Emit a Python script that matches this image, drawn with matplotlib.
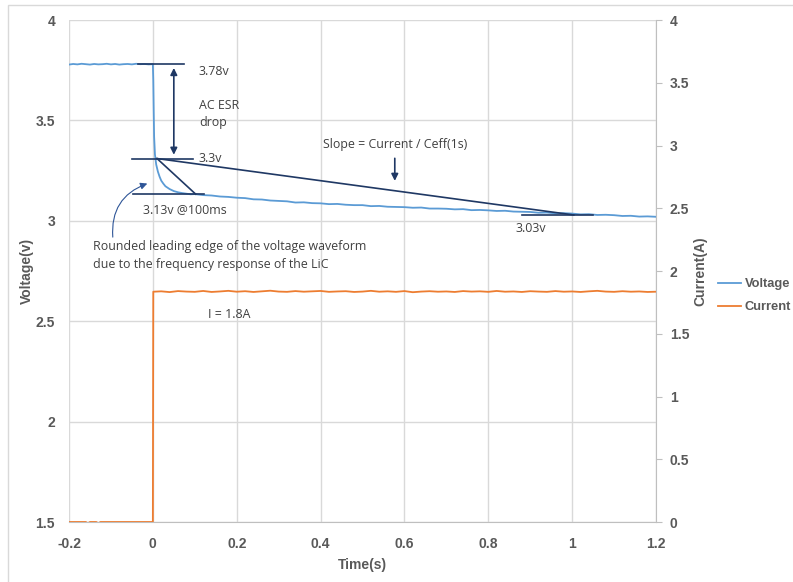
import numpy as np
import matplotlib
matplotlib.use("Agg")
import matplotlib.pyplot as plt
from matplotlib.patches import Rectangle

# Datos
t_pre = [-0.20, -0.19, -0.18, -0.17, -0.16, -0.15, -0.14, -0.13, -0.12, -0.11, -0.10,
         -0.09, -0.08, -0.07, -0.06, -0.05, -0.04, -0.03, -0.02, -0.01, 0.0]
v_pre = [3.778, 3.781, 3.779, 3.782, 3.780, 3.778, 3.781, 3.779, 3.780, 3.782, 3.779,
         3.781, 3.778, 3.780, 3.781, 3.779, 3.782, 3.780, 3.781, 3.779, 3.780]

t_drop = [0.001, 0.002, 0.003, 0.005, 0.008, 0.012, 0.016, 0.020, 0.025, 0.030,
          0.040, 0.050, 0.060, 0.070, 0.080, 0.090]
v_drop = [3.70, 3.55, 3.42, 3.33, 3.28, 3.245, 3.22, 3.20, 3.185, 3.172,
          3.158, 3.148, 3.142, 3.138, 3.135, 3.132]

t_tail = [0.10, 0.12, 0.14, 0.16, 0.18, 0.20, 0.22, 0.24, 0.26, 0.28,
          0.30, 0.32, 0.34, 0.36, 0.38, 0.40, 0.42, 0.44, 0.46, 0.48,
          0.50, 0.52, 0.54, 0.56, 0.58, 0.60, 0.62, 0.64, 0.66, 0.68,
          0.70, 0.72, 0.74, 0.76, 0.78, 0.80, 0.82, 0.84, 0.86, 0.88,
          0.90, 0.92, 0.94, 0.96, 0.98, 1.00, 1.02, 1.04, 1.06, 1.08,
          1.10, 1.12, 1.14, 1.16, 1.18, 1.20]
v_tail = [3.133, 3.128, 3.126, 3.121, 3.119, 3.115, 3.113, 3.107, 3.106, 3.101,
          3.099, 3.097, 3.091, 3.092, 3.088, 3.087, 3.083, 3.084, 3.080, 3.078,
          3.078, 3.073, 3.074, 3.070, 3.069, 3.068, 3.065, 3.066, 3.061, 3.061,
          3.060, 3.057, 3.058, 3.053, 3.054, 3.052, 3.049, 3.050, 3.046, 3.045,
          3.044, 3.040, 3.041, 3.037, 3.038, 3.036, 3.032, 3.033, 3.029, 3.030,
          3.028, 3.024, 3.025, 3.021, 3.022, 3.020]

t_cur_pre = [-0.20, -0.16, -0.155, -0.15, -0.135, -0.13, -0.125, -0.08, -0.04, 0.0]
i_cur_pre = [0.0, 0.0, -0.01, 0.0, 0.0, -0.01, 0.0, 0.0, 0.0, 0.0]

t_cur = [0.001, 0.02, 0.04, 0.06, 0.08, 0.10, 0.12, 0.14, 0.16, 0.18,
         0.20, 0.22, 0.24, 0.26, 0.28, 0.30, 0.32, 0.34, 0.36, 0.38,
         0.40, 0.42, 0.44, 0.46, 0.48, 0.50, 0.52, 0.54, 0.56, 0.58,
         0.60, 0.62, 0.64, 0.66, 0.68, 0.70, 0.72, 0.74, 0.76, 0.78,
         0.80, 0.82, 0.84, 0.86, 0.88, 0.90, 0.92, 0.94, 0.96, 0.98,
         1.00, 1.02, 1.04, 1.06, 1.08, 1.10, 1.12, 1.14, 1.16, 1.18, 1.20]
i_cur = [1.835, 1.838, 1.832, 1.840, 1.836, 1.834, 1.841, 1.833, 1.837, 1.842,
         1.835, 1.839, 1.833, 1.838, 1.843, 1.836, 1.834, 1.840, 1.835, 1.838,
         1.841, 1.834, 1.837, 1.839, 1.833, 1.836, 1.842, 1.835, 1.838, 1.834,
         1.840, 1.831, 1.836, 1.839, 1.835, 1.837, 1.833, 1.840, 1.836, 1.838,
         1.834, 1.841, 1.835, 1.837, 1.833, 1.839, 1.836, 1.834, 1.840, 1.835,
         1.837, 1.833, 1.838, 1.842, 1.836, 1.834, 1.839, 1.835, 1.837, 1.833, 1.835]

x_ticks = [-0.2, 0, 0.2, 0.4, 0.6, 0.8, 1, 1.2]
x_labels = ["-0.2", "0", "0.2", "0.4", "0.6", "0.8", "1", "1.2"]
v_ticks = [1.5, 2, 2.5, 3, 3.5, 4]
v_labels = ["1.5", "2", "2.5", "3", "3.5", "4"]
i_ticks = [0, 0.5, 1, 1.5, 2, 2.5, 3, 3.5, 4]
i_labels = ["0", "0.5", "1", "1.5", "2", "2.5", "3", "3.5", "4"]

azul = "#5B9BD5"
naranja = "#ED7D31"
marino = "#1F3864"
gris = "#595959"
texto = "#404040"
fuente_ejes = ["Liberation Sans", "DejaVu Sans"]
fuente_notas = ["Open Sans", "DejaVu Sans"]

fig = plt.figure(figsize=(7.93, 5.82), dpi=100)
fig.patches.append(Rectangle((8 / 793, -0.1), 1.2, (582 - 5) / 582 + 0.1, transform=fig.transFigure,
                             fill=False, edgecolor="#D9D9D9", linewidth=1.0))
ax = fig.add_axes([69 / 793, 60 / 582, 587 / 793, 502 / 582])
ax2 = ax.twinx()

t_volt = t_pre + t_drop + t_tail
v_volt = v_pre + v_drop + v_tail
l1, = ax.plot(t_volt, v_volt, color=azul, linewidth=1.3, label="Voltage", zorder=3)
l2, = ax2.plot(t_cur_pre + t_cur, i_cur_pre + i_cur, color=naranja, linewidth=1.3, label="Current")

ax.set_xlim(-0.2, 1.2)
ax.set_ylim(1.5, 4)
ax2.set_ylim(0, 4)
ax.set_xticks(x_ticks)
ax.set_xticklabels(x_labels)
ax.set_yticks(v_ticks)
ax.set_yticklabels(v_labels)
ax2.set_yticks(i_ticks)
ax2.set_yticklabels(i_labels)

ax.grid(True, color="#D9D9D9", linewidth=1.0)
ax.set_axisbelow(True)
for a in (ax, ax2):
    for s in a.spines.values():
        s.set_visible(False)
ax.spines["bottom"].set_visible(True)
ax.spines["bottom"].set_color("#BFBFBF")
ax2.spines["right"].set_visible(True)
ax2.spines["right"].set_color("#BFBFBF")

ax.tick_params(axis="x", length=0, colors=gris, pad=11)
ax.tick_params(axis="y", length=0, colors=gris, pad=10)
ax2.tick_params(axis="y", length=4, color="#BFBFBF", colors=gris, pad=6)
for lab in ax.get_xticklabels() + ax.get_yticklabels() + ax2.get_yticklabels():
    lab.set_family(fuente_ejes)
    lab.set_fontsize(10)
    lab.set_fontweight("bold")
    lab.set_color(gris)

ax.set_xlabel("Time(s)", family=fuente_ejes, fontsize=10, fontweight="bold", color=gris, labelpad=5)
ax.set_ylabel("Voltage(v)", family=fuente_ejes, fontsize=10, fontweight="bold", color=gris, labelpad=1)
ax2.set_ylabel("Current(A)", family=fuente_ejes, fontsize=10, fontweight="bold", color=gris, labelpad=3)

# Anotaciones
nota = dict(family=fuente_notas, fontsize=8.9, color=texto)
ax.plot([-0.036, 0.074], [3.78, 3.78], color=marino, linewidth=1.2, zorder=4)
ax.plot([-0.05, 0.095], [3.31, 3.31], color=marino, linewidth=1.2, zorder=4)
ax.plot([-0.048, 0.122], [3.133, 3.133], color=marino, linewidth=1.2, zorder=4)
ax.plot([0.88, 1.05], [3.029, 3.029], color=marino, linewidth=1.2, zorder=4)
ax.plot([0.01, 0.102], [3.31, 3.133], color=marino, linewidth=1.2, zorder=4)
ax.plot([0.01, 1.004], [3.31, 3.029], color=marino, linewidth=1.2, zorder=4)
ax.annotate("", xy=(0.05, 3.775), xytext=(0.05, 3.315),
            arrowprops=dict(arrowstyle="<|-|>", color=marino, lw=1.2, mutation_scale=10))
ax.annotate("", xy=(0.577, 3.185), xytext=(0.577, 3.325),
            arrowprops=dict(arrowstyle="-|>", color=marino, lw=1.2, mutation_scale=10))
ax.annotate("", xy=(-0.007, 3.19), xytext=(-0.095, 2.905),
            arrowprops=dict(arrowstyle="-|>", color="#2E5597", lw=0.8, mutation_scale=10,
                            connectionstyle="arc3,rad=-0.4"))

ax.text(0.11, 3.745, "3.78v", va="center", **nota)
ax.text(0.11, 3.53, "AC ESR\ndrop", va="center", linespacing=1.4, **nota)
ax.text(0.11, 3.31, "3.3v", va="center", **nota)
ax.text(-0.024, 3.055, "3.13v @100ms", va="center", **nota)
ax.text(0.405, 3.38, "Slope = Current / Ceff(1s)", va="center", **nota)
ax.text(0.865, 2.962, "3.03v", va="center", **nota)
ax.text(-0.142, 2.827, "Rounded leading edge of the voltage waveform\ndue to the frequency response of the LiC",
        va="center", linespacing=1.45, **nota)
ax.text(0.132, 2.531, "I = 1.8A", va="center", **nota)

leg = fig.legend(handles=[l1, l2], loc="upper left", bbox_to_anchor=(718 / 793, (582 - 278) / 582),
                 frameon=False, handlelength=1.75, handletextpad=0.3, labelspacing=0.85,
                 borderpad=0, borderaxespad=0, prop=dict(family=fuente_ejes, size=9.3, weight="bold"))
for txt in leg.get_texts():
    txt.set_color(gris)

plt.savefig("out.png", dpi=100)
